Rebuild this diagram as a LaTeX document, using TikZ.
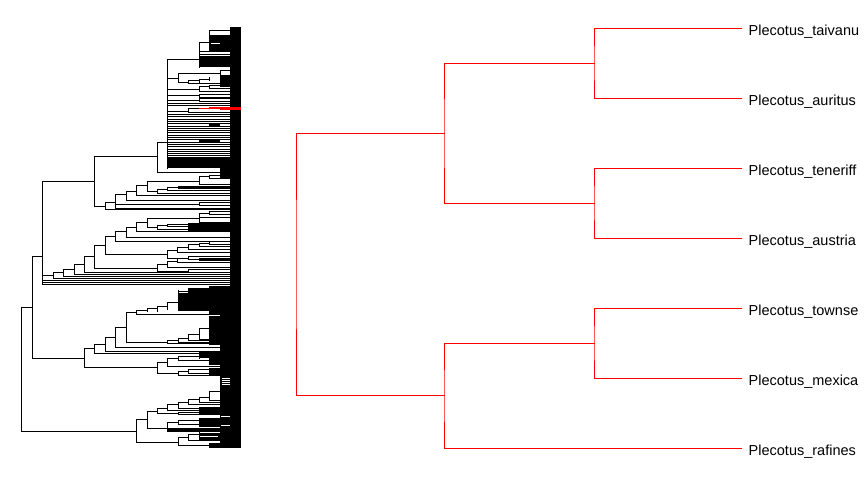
\documentclass[tikz,border=0pt]{standalone}
\usepackage{fontspec}
\setmainfont{Liberation Sans}
\newcommand\TRn[5]{\draw[tl] (#1,#3) -- (#2,#3) (#2,#4) -- (#2,#5);}
\newcommand\TRt[2]{\draw[tl] (#1,#2) -- (230,#2);}
\newcommand\TRb[4]{\fill (#1,#2) rectangle (#3,#4);}
\newcommand\TRw[3]{\draw[white,line width=0.8pt] (#1,#3) -- (#2,#3);}
\begin{document}
\begin{tikzpicture}[x=1pt,y=-1pt,
  tl/.style={line width=1pt,black,line cap=rect},
  rl/.style={line width=1pt,red,line cap=rect},
  lab/.style={font=\fontsize{14.5}{16}\selectfont,inner sep=0pt,anchor=base west}]
\useasboundingbox (0,0) rectangle (864,480);
\fill[white] (0,0) rectangle (864,480);
% ---------------- left tree ----------------
\TRb{230}{27}{241}{448}
% backbone
\draw[tl] (21,307) -- (21,431);
\TRn{21}{32}{307}{256}{358}
\TRn{21}{136}{431}{419}{442}
\TRn{32}{42}{256}{181}{284}
\TRn{32}{84}{358}{348}{367}
\TRn{42}{94}{181}{156}{206}
\TRn{94}{157}{156}{142}{172}
\TRt{157}{172}
\TRn{157}{167}{142}{59}{168}
% top clade
\TRn{167}{199}{59}{42}{67}
\TRn{199}{209}{42}{30}{50}
\TRt{209}{30} \TRt{209}{35} \TRt{209}{36.7}
\TRb{209}{37}{230}{51}
\TRw{211}{220}{43.8}
\TRb{199}{51}{230}{67}
\TRw{200}{230}{52.4} \TRw{200}{230}{53.8} \TRw{200}{230}{55.2}
% upper comb
\TRn{167}{178}{78}{73}{82}
\TRn{178}{220}{73}{70.5}{75.5}
\TRt{220}{70.5} \TRt{220}{75.5}
\TRn{178}{188}{82}{80.5}{83.5}
\TRn{188}{199}{80.5}{79}{82}
\TRn{199}{209}{79}{77.5}{80.5}
\TRb{220}{76}{230}{87}
\TRt{188}{83.5}
\TRn{167}{199}{89}{86.5}{91.5}
\TRn{199}{209}{86.5}{85}{88}
\TRt{209}{85} \TRt{209}{88} \TRt{199}{91.5}
\TRn{167}{199}{95.5}{94}{97}
\TRt{199}{94} \TRt{199}{97}
\TRn{167}{199}{100}{98.8}{101.5}
\TRt{199}{98.8} \TRt{199}{101.5}
\TRt{167}{103.2}
\TRt{167}{105.2}
\TRn{167}{188}{111}{108.7}{112.5}
\draw[tl] (188,108.7) -- (199,108.7);
\TRt{188}{112.5}
\draw[rl] (199,108.7) -- (220,108.7) (209,107.7) -- (220,107.7);
\fill[red] (220,107) rectangle (241,110.3);
\foreach \yy in {114.5,116.8,...,156} {\TRt{167}{\yy}}
\TRb{209}{123}{220}{126}
\TRb{199}{140}{220}{141.5}
\TRb{167}{157}{230}{168}
\TRb{220}{166}{230}{178}
% clade under 94 (bottom)
\TRn{94}{105}{206}{202}{209}
\TRn{105}{115}{202}{194}{208}
\TRn{115}{126}{194}{191}{200}
\TRn{126}{136}{191}{185}{195}
\TRn{136}{147}{185}{181}{191}
\TRn{147}{199}{181}{176}{184}
\TRn{199}{209}{176}{175}{178}
\TRt{209}{175} \TRt{209}{178} \TRt{199}{184}
\TRn{147}{157}{191}{189}{193}
\TRn{157}{167}{189}{187.5}{190.5}
\TRb{178}{186}{230}{189}
\draw[tl] (167,187.5) -- (178,187.5);
\TRt{157}{193} \TRt{167}{190.5}
\TRt{136}{195} \TRt{126}{200}
\TRn{115}{199}{204}{202.5}{205.5}
\TRt{199}{202.5} \TRt{199}{205.5}
\TRt{115}{208} \TRt{105}{209}
% ladder from x=42
\TRn{42}{53}{275}{272.5}{278}
\TRt{53}{278}
\TRt{42}{280.5} \TRt{42}{282.3} \TRt{42}{284}
\TRn{53}{63}{272.5}{269}{276}
\TRt{63}{276}
\TRn{63}{74}{269}{264}{274}
\TRt{74}{274}
\TRn{74}{84}{264}{256.5}{272}
\TRt{84}{272}
\TRn{84}{94}{256.5}{245}{268}
\TRn{94}{105}{245}{236}{254}
\TRn{105}{115}{236}{231}{241}
\TRt{115}{241}
\TRn{115}{126}{231}{227}{237}
\TRt{126}{237}
\TRn{126}{136}{227}{222}{231}
\TRt{136}{231}
\TRn{136}{147}{222}{218}{227}
\TRn{147}{199}{218}{213}{222}
\TRn{199}{209}{213}{211.5}{214.5}
\TRt{209}{211.5} \TRt{209}{214.5} \TRt{199}{217.5} \TRt{199}{222}
\TRn{147}{157}{227}{225}{229}
\TRn{157}{167}{225}{224}{226}
\draw[tl] (167,224) -- (188,224);
\TRb{188}{223}{230}{232}
\TRt{157}{229} \TRt{167}{226}
\TRn{105}{167}{254}{250}{258}
\TRn{167}{177}{250}{247}{252}
\TRn{177}{188}{247}{244.5}{249}
\TRn{188}{199}{244.5}{243}{246}
\TRn{199}{209}{243}{241.8}{244.5}
\TRt{209}{241.8} \TRt{209}{244.5} \TRt{199}{246} \TRt{188}{249} \TRt{177}{252}
\TRn{167}{188}{258}{256.5}{259.5}
\TRt{188}{256.5} \TRt{188}{259.5}
\TRn{94}{157}{268}{264}{271}
\TRn{157}{167}{264}{261}{267}
\TRn{167}{177}{261}{259.8}{262.5}
\TRt{177}{262.5} \TRt{167}{267}
\TRn{157}{188}{271}{269.5}{271}
\TRt{188}{269.5}
\TRb{199}{258}{230}{260.5}
% clade under x=84 (bottom)
\TRn{84}{94}{348}{344}{353}
\TRt{94}{353}
\TRn{94}{105}{344}{337}{351}
\TRt{105}{351}
\TRn{105}{115}{337}{327}{347}
\TRt{115}{347}
\TRn{115}{126}{327}{312}{342}
\TRn{126}{136}{312}{310}{314}
\TRt{136}{314}
\TRn{136}{147}{310}{308.5}{311.5}
\TRn{147}{157}{308.5}{306}{311}
\TRn{157}{167}{306}{302}{309}
\TRn{167}{178}{302}{290}{306}
\TRb{188}{287.5}{230}{292}
\TRb{178}{291}{230}{310.5}
\TRw{179}{188}{292.2}
\TRb{209}{286}{230}{345}
\TRw{209}{220}{315.5}
\TRn{126}{167}{342}{340}{343.5}
\TRn{167}{178}{340}{338}{342}
\TRn{178}{188}{338}{334}{340}
\TRn{188}{199}{334}{328}{339}
\TRt{199}{328} \TRt{199}{339} \TRt{188}{340} \TRt{178}{342} \TRt{167}{343.5}
\TRn{84}{157}{367}{362}{373}
\TRn{157}{167}{362}{358}{366}
\TRn{167}{178}{358}{356}{360}
\TRn{178}{199}{356}{354}{358}
\TRb{199}{352}{230}{358}
\TRb{209}{358}{230}{365}
\TRt{178}{360} \TRt{167}{366}
\TRn{157}{178}{373}{371}{375}
\TRn{178}{188}{371}{369.5}{373}
\TRt{188}{369.5} \TRt{188}{373} \TRt{178}{375}
\TRb{209}{368}{230}{376}
\TRb{220}{286}{230}{448}
\TRw{222}{230}{378} \TRw{222}{230}{380} \TRw{222}{230}{382} \TRw{222}{230}{384}
\TRw{221}{230}{400} \TRw{221}{230}{402.7} \TRw{221}{230}{416}
\TRw{221}{230}{425.5} \TRw{221}{230}{443}
% bottom clade under 136
\TRn{136}{147}{419}{411}{428}
\TRn{147}{157}{411}{408}{413}
\TRn{157}{167}{408}{404}{410}
\TRn{167}{178}{404}{402}{408}
\TRn{178}{188}{402}{399}{404}
\TRn{188}{199}{399}{397}{402}
\TRn{199}{209}{397}{391}{400}
\TRt{209}{391} \TRt{209}{400} \TRt{199}{402} \TRt{188}{404} \TRt{178}{408} \TRt{167}{410}
\TRn{157}{178}{413}{412}{414}
\TRt{178}{412} \TRt{178}{414}
\TRb{199}{407}{220}{415}
\TRn{147}{167}{428}{422}{431}
\TRn{167}{178}{422}{420}{424}
\TRt{178}{420} \TRt{178}{424}
\TRb{199}{418}{220}{427}
\TRb{167}{428}{220}{431.5}
\TRn{136}{178}{442}{437}{445}
\TRn{178}{188}{437}{434}{440}
\TRn{188}{199}{434}{432.5}{436}
\TRb{199}{433}{220}{440}
\TRw{200}{218}{436.5}
\TRt{188}{440}
\TRn{178}{209}{445}{443.5}{446.5}
\TRt{209}{443.5} \TRt{209}{446.5}
\TRb{209}{444}{220}{448}
% ---------------- right tree ----------------
\coordinate (rt) at (296,264.5);
\coordinate (nA) at (444,133.3);
\coordinate (nB) at (444,395.8);
\coordinate (nA1) at (594,63.3);
\coordinate (nA2) at (594,203.3);
\coordinate (nB1) at (594,343.3);
\coordinate (tp1) at (741,28.3);
\coordinate (tp2) at (741,98.3);
\coordinate (tp3) at (741,168.3);
\coordinate (tp4) at (741,238.3);
\coordinate (tp5) at (741,308.3);
\coordinate (tp6) at (741,378.3);
\coordinate (tp7) at (741,448.3);
\draw[rl] (nA) -| (rt) |- (nB);
\draw[rl] (nA1) -| (nA) |- (nA2);
\draw[rl] (nB1) -| (nB) |- (tp7);
\draw[rl] (tp1) -| (nA1) |- (tp2);
\draw[rl] (tp3) -| (nA2) |- (tp4);
\draw[rl] (tp5) -| (nB1) |- (tp6);
\node[lab] (l1) at (748.5,35.3) {Plecotus\_taivanu};
\node[lab] (l2) at (748.5,105.3) {Plecotus\_auritus};
\node[lab] (l3) at (748.5,175.3) {Plecotus\_teneriff};
\node[lab] (l4) at (748.5,245.3) {Plecotus\_austria};
\node[lab] (l5) at (748.5,315.3) {Plecotus\_townse};
\node[lab] (l6) at (748.5,385.3) {Plecotus\_mexica};
\node[lab] (l7) at (748.5,455.3) {Plecotus\_rafines};
\end{tikzpicture}
\end{document}
